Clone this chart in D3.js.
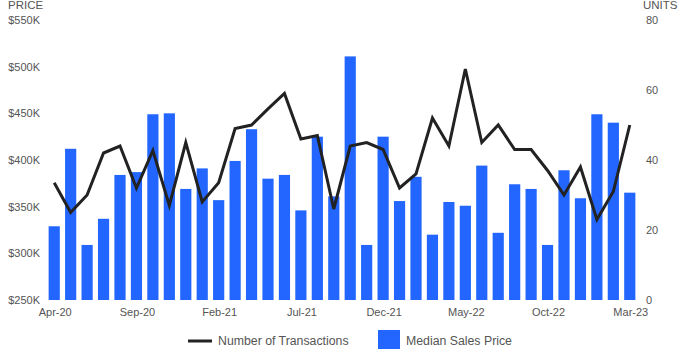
<!DOCTYPE html>
<html><head><meta charset="utf-8">
<script src="https://cdn.jsdelivr.net/npm/d3@7"></script>
<style>body{margin:0;background:#fff;}svg{display:block;font-family:"Liberation Sans",Arial,sans-serif;}</style>
</head><body><svg id="c" width="700" height="350"></svg>
<script>
const months = ["Apr-20","May-20","Jun-20","Jul-20","Aug-20","Sep-20","Oct-20","Nov-20","Dec-20","Jan-21","Feb-21","Mar-21","Apr-21","May-21","Jun-21","Jul-21","Aug-21","Sep-21","Oct-21","Nov-21","Dec-21","Jan-22","Feb-22","Mar-22","Apr-22","May-22","Jun-22","Jul-22","Aug-22","Sep-22","Oct-22","Nov-22","Dec-22","Jan-23","Feb-23","Mar-23"];
const medianPrice = [329,412,309,337,384,387,449,450,369,391,357,399,433,380,384,346,425,361,511,309,425,356,382,320,355,351,394,322,374,369,309,389,359,449,440,365];
const transactions = [33.5,25,30,42,44,32,42.7,27,45,28,33.5,49,50,54.6,59,46,47,26,44,45,43,32,36,52,44,66,45,50,43,43,37,30,38,23,31,50];
const priceTicks = [250,300,350,400,450,500,550];
const unitTicks = [0,20,40,60,80];
const xTickLabels = ["Apr-20","Sep-20","Feb-21","Jul-21","Dec-21","May-22","Oct-22","Mar-23"];

(function(){
const svg = d3.select("#c");
const plotTop = 20, plotBottom = 300, plotLeft = 46, plotRight = 638;
const x = d3.scaleBand().domain(months).range([plotLeft, plotRight]).paddingInner(0.32).paddingOuter(0.16);
const yP = d3.scaleLinear().domain([250,550]).range([plotBottom, plotTop]);
const yU = d3.scaleLinear().domain([0,80]).range([plotBottom, plotTop]);
const textCol = "#555";

svg.append("g").selectAll("rect").data(months).join("rect")
  .attr("x", d => x(d)).attr("width", x.bandwidth())
  .attr("y", (d,i) => yP(medianPrice[i])).attr("height", (d,i) => plotBottom - yP(medianPrice[i]))
  .attr("fill", "#2266ff");

const line = d3.line().x((d,i) => x(months[i]) + x.bandwidth()/2).y(d => yU(d));
svg.append("path").datum(transactions).attr("d", line)
  .attr("fill","none").attr("stroke","#222").attr("stroke-width",3).attr("stroke-linejoin","miter");

const gl = svg.append("g").attr("transform", `translate(${plotLeft-6},0)`)
  .call(d3.axisLeft(yP).tickValues(priceTicks).tickFormat(d => "$" + d + "K").tickSize(0).tickPadding(0));
gl.select(".domain").remove();
gl.selectAll("text").attr("fill", textCol).style("font-size","11px").attr("font-family","Liberation Sans, Arial, sans-serif");

const gr = svg.append("g").attr("transform", `translate(${plotRight+8},0)`)
  .call(d3.axisRight(yU).tickValues(unitTicks).tickSize(0).tickPadding(0));
gr.select(".domain").remove();
gr.selectAll("text").attr("fill", textCol).style("font-size","11px").attr("font-family","Liberation Sans, Arial, sans-serif");

const gb = svg.append("g").attr("transform", `translate(1,${plotBottom+8})`)
  .call(d3.axisBottom(x).tickValues(xTickLabels).tickSize(0).tickPadding(0));
gb.select(".domain").remove();
gb.selectAll("text").attr("fill", textCol).style("font-size","11px").attr("font-family","Liberation Sans, Arial, sans-serif");

svg.append("text").attr("x", 8).attr("y", 9).attr("fill", textCol).style("font-size","11.5px").text("PRICE");
svg.append("text").attr("x", 643).attr("y", 9).attr("fill", textCol).style("font-size","11.5px").text("UNITS");

const lg = svg.append("g");
lg.append("line").attr("x1",188).attr("x2",212).attr("y1",341).attr("y2",341).attr("stroke","#222").attr("stroke-width",3);
lg.append("text").attr("x",218).attr("y",345).attr("fill",textCol).style("font-size","12.3px").text("Number of Transactions");
lg.append("rect").attr("x",378).attr("y",330).attr("width",22).attr("height",19).attr("fill","#2266ff");
lg.append("text").attr("x",406).attr("y",345).attr("fill",textCol).style("font-size","12.3px").text("Median Sales Price");
})();
</script></body></html>
